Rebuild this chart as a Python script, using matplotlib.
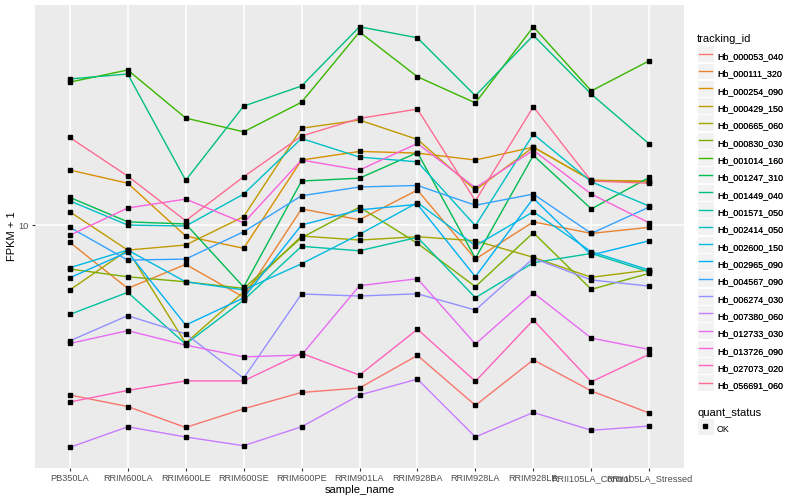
import matplotlib
matplotlib.use("Agg")
import matplotlib.pyplot as plt
from matplotlib.legend_handler import HandlerBase
from matplotlib.lines import Line2D
from matplotlib.patches import Rectangle

plt.rcParams["font.family"] = ["Liberation Sans", "DejaVu Sans"]

# sample names on the x axis
samples = ["PB350LA", "RRIM600LA", "RRIM600LE", "RRIM600SE", "RRIM600PE",
           "RRIM901LA", "RRIM928BA", "RRIM928LA", "RRIM928LB",
           "RRII105LA_Control", "RRII105LA_Stressed"]

# FPKM + 1 per gene
hb_000053_040 = [2.09, 1.88, 1.55, 1.84, 2.14, 2.23, 3.01, 1.90, 2.89, 2.17, 1.77]
hb_000111_320 = [8.53, 5.58, 6.96, 5.15, 11.6, 10.5, 13.8, 7.31, 10.3, 9.26, 9.79]
hb_000254_090 = [16.6, 14.7, 9.04, 8.07, 18.2, 19.7, 19.4, 18.2, 20.5, 15.1, 14.9]
hb_000429_150 = [11.3, 7.94, 8.32, 10.8, 24.4, 26.3, 22.0, 13.8, 20.5, 15.1, 15.0]
hb_000665_060 = [5.50, 7.94, 3.37, 5.40, 9.04, 8.71, 8.98, 8.65, 7.43, 6.18, 6.61]
hb_000830_030 = [6.67, 6.21, 5.93, 5.58, 8.90, 11.8, 8.45, 5.67, 9.32, 5.53, 6.41]
hb_001014_160 = [37.3, 41.7, 26.8, 23.6, 31.0, 59.2, 39.2, 30.8, 62.1, 34.4, 45.4]
hb_001247_310 = [12.9, 10.3, 10.1, 5.65, 15.0, 15.4, 19.5, 7.36, 19.0, 11.6, 15.5]
hb_001449_040 = [38.4, 40.2, 15.1, 29.9, 36.0, 62.1, 56.1, 32.9, 57.4, 33.4, 21.1]
hb_001571_050 = [4.39, 5.38, 3.34, 5.01, 8.22, 7.89, 8.93, 5.12, 7.07, 7.70, 6.50]
hb_002414_050 = [12.5, 10.0, 9.91, 13.3, 22.2, 18.7, 17.9, 9.94, 23.1, 14.9, 11.9]
hb_002600_150 = [6.75, 7.94, 5.93, 5.50, 7.00, 9.18, 12.3, 8.27, 11.3, 7.82, 6.61]
hb_002965_090 = [6.15, 7.80, 3.98, 5.11, 10.0, 11.5, 12.1, 6.21, 12.8, 7.59, 8.65]
hb_004567_090 = [9.79, 7.24, 7.31, 9.40, 13.1, 14.2, 14.4, 12.0, 13.3, 9.26, 11.8]
hb_006274_030 = [3.44, 4.34, 3.67, 2.44, 5.30, 5.20, 5.31, 4.57, 7.36, 6.03, 5.70]
hb_007380_060 = [1.29, 1.56, 1.42, 1.31, 1.56, 2.09, 2.42, 1.42, 1.78, 1.51, 1.57]
hb_012733_030 = [3.36, 3.78, 3.31, 2.97, 3.02, 5.72, 6.10, 3.34, 5.36, 3.53, 3.18]
hb_013726_090 = [9.10, 11.7, 12.7, 10.2, 18.2, 16.6, 21.2, 14.1, 19.9, 13.3, 10.2]
hb_027073_020 = [1.96, 2.18, 2.38, 2.38, 3.07, 2.51, 3.83, 2.37, 4.17, 2.36, 3.04]
hb_056691_060 = [22.4, 15.7, 10.4, 15.6, 22.7, 26.7, 29.1, 12.5, 29.7, 15.0, 14.7]

gene_ids = ["Hb_000053_040", "Hb_000111_320", "Hb_000254_090", "Hb_000429_150",
            "Hb_000665_060", "Hb_000830_030", "Hb_001014_160", "Hb_001247_310",
            "Hb_001449_040", "Hb_001571_050", "Hb_002414_050", "Hb_002600_150",
            "Hb_002965_090", "Hb_004567_090", "Hb_006274_030", "Hb_007380_060",
            "Hb_012733_030", "Hb_013726_090", "Hb_027073_020", "Hb_056691_060"]
gene_values = [hb_000053_040, hb_000111_320, hb_000254_090, hb_000429_150,
               hb_000665_060, hb_000830_030, hb_001014_160, hb_001247_310,
               hb_001449_040, hb_001571_050, hb_002414_050, hb_002600_150,
               hb_002965_090, hb_004567_090, hb_006274_030, hb_007380_060,
               hb_012733_030, hb_013726_090, hb_027073_020, hb_056691_060]

# ggplot default hue palette for 20 levels
colors = ["#F8766D", "#EA8331", "#D89000", "#C09B00", "#A3A500", "#7CAE00",
          "#39B600", "#00BB4E", "#00BF7D", "#00C1A3", "#00BFC4", "#00BAE0",
          "#00B0F6", "#35A2FF", "#9590FF", "#C77CFF", "#E76BF3", "#FA62DB",
          "#FF62BC", "#FF6C91"]

KEY = 12.2  # key box size in points (~17 px)


class KeyHandler(HandlerBase):
    # grey ggplot-style key box with a line or a point inside
    def create_artists(self, legend, orig_handle, xdescent, ydescent,
                       width, height, fontsize, trans):
        cy = (height - ydescent) / 2
        x0 = -xdescent
        box = Rectangle((x0, cy - KEY / 2), KEY, KEY,
                        facecolor="#F2F2F2", edgecolor="white", lw=0.8,
                        transform=trans)
        if orig_handle.get_marker() not in (None, "None", ""):
            mark = Line2D([x0 + KEY / 2], [cy], marker="s", ms=2.6,
                          color="black", ls="none", transform=trans)
        else:
            mark = Line2D([x0 + 1.2, x0 + KEY - 1.2], [cy, cy],
                          color=orig_handle.get_color(), lw=1.0, transform=trans)
        return [box, mark]


fig = plt.figure(figsize=(8, 5), dpi=100)
ax = fig.add_axes([35 / 800, 1 - 468 / 500, 649 / 800, 463 / 500])
ax.set_facecolor("#EBEBEB")

x = list(range(len(samples)))
handles = []
for gid, vals, col in zip(gene_ids, gene_values, colors):
    line, = ax.plot(x, vals, color=col, lw=1.0, zorder=2)
    handles.append(line)
for vals in gene_values:
    ax.plot(x, vals, ls="none", marker="s", ms=3.0, color="black", zorder=3)

ax.set_yscale("log")
ax.set_ylim(1.067, 75.9)
ax.set_xlim(-0.6, 10.6)
ax.set_yticks([10])
ax.set_yticklabels(["10"])
ax.yaxis.set_minor_locator(matplotlib.ticker.NullLocator())
ax.set_xticks(x)
ax.set_xticklabels(samples)

ax.grid(True, color="white", lw=1.1)
ax.set_axisbelow(True)
for s in ax.spines.values():
    s.set_visible(False)
ax.tick_params(axis="both", length=2.5, width=0.8, color="#333333",
               labelcolor="#4D4D4D", labelsize=6.6, pad=2)

ax.set_xlabel("sample_name", fontsize=8, labelpad=1)
ax.set_ylabel("FPKM + 1", fontsize=8, labelpad=1)

# legend titles as plain text, keys below them
fig.text(697 / 800, 1 - 39.5 / 500, "tracking_id", fontsize=8,
         ha="left", va="center")
fig.text(697 / 800, 1 - 412.5 / 500, "quant_status", fontsize=8,
         ha="left", va="center")

leg1 = fig.legend(handles, gene_ids, loc="upper left",
                  bbox_to_anchor=(697 / 800, 1 - 48 / 500), frameon=False,
                  fontsize=6.4, handler_map={Line2D: KeyHandler()},
                  handlelength=1.8, handleheight=2.62, labelspacing=0,
                  handletextpad=0.45, borderpad=0, borderaxespad=0)
fig.add_artist(leg1)

ok_handle = Line2D([], [], marker="s", color="black", ls="none")
fig.legend([ok_handle], ["OK"], loc="upper left",
           bbox_to_anchor=(697 / 800, 1 - 420.5 / 500), frameon=False,
           fontsize=6.4, handler_map={Line2D: KeyHandler()},
           handlelength=1.8, handleheight=2.62, handletextpad=0.45,
           borderpad=0, borderaxespad=0)

fig.savefig("out.png", dpi=100)
